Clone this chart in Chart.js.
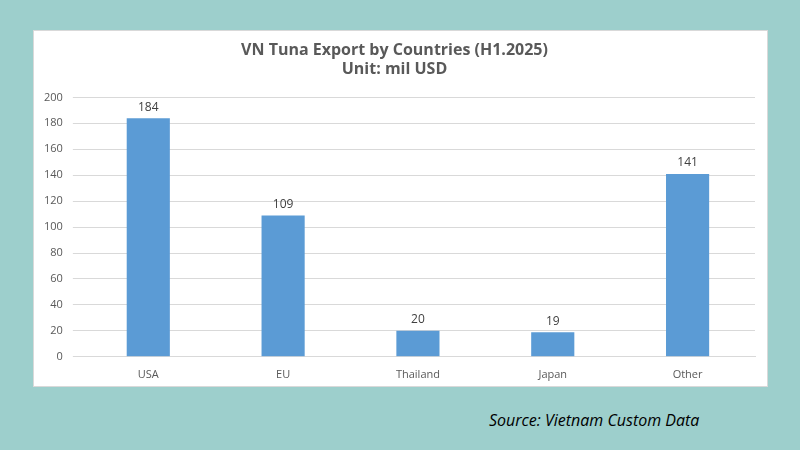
<!DOCTYPE html>
<html><head><meta charset="utf-8">
<script src="https://cdn.jsdelivr.net/npm/chart.js@4"></script>
<style>
body{margin:0;width:800px;height:450px;background:#9dcfcc;position:relative;overflow:hidden;font-family:"Open Sans",sans-serif}
#panel{position:absolute;left:33px;top:30px;width:735px;height:357px;background:#fff;border:1px solid #d9d9d9;box-sizing:border-box}
#src{position:absolute;left:489px;top:409px;font-style:italic;font-size:16px;color:#000}
</style></head><body>
<div id="panel"><canvas id="c" width="735" height="357"></canvas></div>
<div id="src">Source: Vietnam Custom Data</div>
<script>
const categories=["USA","EU","Thailand","Japan","Other"];
const values=[184,109,20,19,141];
const yTicks=[0,20,40,60,80,100,120,140,160,180,200];
const labelPlugin={id:'lbl',afterDatasetsDraw(ch){const ctx=ch.ctx;const meta=ch.getDatasetMeta(0);ctx.save();ctx.fillStyle='#404040';ctx.font='12px "Open Sans"';ctx.textAlign='center';ctx.textBaseline='bottom';meta.data.forEach((b,i)=>ctx.fillText(values[i],b.x,b.y-5));ctx.restore();}};
new Chart(document.getElementById('c'),{type:'bar',
data:{labels:categories,datasets:[{data:values,backgroundColor:'#5b9bd5',categoryPercentage:1,barPercentage:0.32}]},
options:{responsive:false,animation:false,
layout:{padding:{left:0,right:14,top:6,bottom:4}},
plugins:{legend:{display:false},tooltip:{enabled:false},
title:{display:true,text:['VN Tuna Export by Countries (H1.2025)','Unit: mil USD'],color:'#595959',font:{family:'Open Sans',size:16,weight:'bold'},padding:{top:4,bottom:18},lineHeight:1.4}},
scales:{x:{grid:{display:false},border:{color:'#d9d9d9'},ticks:{color:'#595959',font:{family:'Open Sans',size:11}}},
y:{min:0,max:200,afterBuildTicks(a){a.ticks=yTicks.map(v=>({value:v}));},grid:{color:'#d9d9d9'},border:{display:false},ticks:{color:'#595959',font:{family:'Open Sans',size:11},padding:10}}}},
plugins:[labelPlugin]});
</script></body></html>
